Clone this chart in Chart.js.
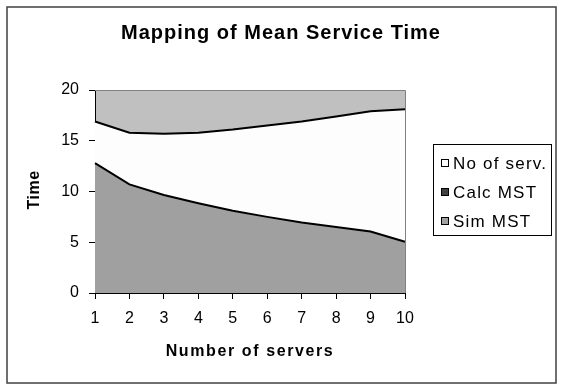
<!DOCTYPE html>
<html>
<head>
<meta charset="utf-8">
<script src="https://cdn.jsdelivr.net/npm/chart.js@4"></script>
<style>
  html, body { margin: 0; padding: 0; background: #fff; }
  #wrap { width: 563px; height: 392px; }
</style>
</head>
<body>
<div id="wrap"><canvas id="graphicMst" width="563" height="392"></canvas></div>
<script>
// Mapping of Mean Service Time - area chart
const servers = ['1', '2', '3', '4', '5', '6', '7', '8', '9', '10'];
const noOfServ = [16.9, 15.8, 15.7, 15.8, 16.1, 16.5, 16.9, 17.4, 17.9, 18.1];
const calcMst = [];
const simMst = [12.8, 10.7, 9.65, 8.85, 8.1, 7.5, 6.95, 6.5, 6.05, 5.05];
const yTicks = [0, 5, 10, 15, 20];

const fontName = '"Liberation Sans", Arial, sans-serif';

// plot background + frames + titles + legend (Excel look)
const excelLook = {
  id: 'excelLook',
  beforeDraw(chart) {
    const ctx = chart.ctx;
    const a = chart.chartArea;
    ctx.save();
    ctx.fillStyle = '#fff';
    ctx.fillRect(0, 0, chart.width, chart.height);
    ctx.fillStyle = '#c0c0c0';
    ctx.fillRect(a.left, a.top, a.right - a.left, a.bottom - a.top);
    ctx.restore();
  },
  afterDraw(chart) {
    const ctx = chart.ctx;
    const a = chart.chartArea;
    ctx.save();
    // plot frame
    ctx.strokeStyle = '#808080';
    ctx.lineWidth = 1;
    ctx.beginPath();
    ctx.moveTo(a.left, a.top + 0.5);
    ctx.lineTo(a.right + 0.5, a.top + 0.5);
    ctx.lineTo(a.right + 0.5, a.bottom);
    ctx.stroke();
    // chart area border
    ctx.strokeStyle = '#404040';
    ctx.lineWidth = 1.5;
    ctx.strokeRect(7, 7, 549, 376);

    // title
    ctx.fillStyle = '#000';
    ctx.textAlign = 'center';
    ctx.textBaseline = 'middle';
    ctx.letterSpacing = '1px';
    ctx.font = 'bold 20px ' + fontName;
    ctx.fillText('Mapping of Mean Service Time', 281, 33);

    // axis titles
    ctx.letterSpacing = '1.6px';
    ctx.font = 'bold 16px ' + fontName;
    ctx.fillText('Number of servers', (a.left + a.right) / 2, 352);
    ctx.save();
    ctx.translate(35, 190);
    ctx.rotate(-Math.PI / 2);
    ctx.letterSpacing = '0.5px';
    ctx.fillText('Time', 0, 0);
    ctx.restore();

    // legend
    ctx.letterSpacing = '0px';
    ctx.fillStyle = '#fff';
    ctx.fillRect(433, 144, 118, 91);
    ctx.strokeStyle = '#000';
    ctx.lineWidth = 1;
    ctx.strokeRect(433.5, 144.5, 118, 91);
    const rows = [163, 192, 221];
    ctx.textAlign = 'left';
    chart.data.datasets.forEach((ds, i) => {
      const y = rows[i];
      ctx.fillStyle = ds.legendColor;
      ctx.fillRect(441, y - 3.5, 7, 7);
      ctx.strokeStyle = '#000';
      ctx.strokeRect(441.5, y - 3.5, 7, 7);
      ctx.fillStyle = '#000';
      ctx.letterSpacing = '1.2px';
      ctx.font = '17px ' + fontName;
      ctx.fillText(ds.label, 453, y + 1);
    });
    ctx.restore();
  }
};

let chart1;
function getDrawGraphic() {
  var ctx = document.getElementById('graphicMst').getContext('2d');
  if (chart1) {
    chart1.destroy();
  }
  chart1 = new Chart(ctx, {
    type: 'line',
    data: {
      labels: servers,
      datasets: [
        {
          label: 'No of serv.',
          data: noOfServ,
          fill: 'origin',
          backgroundColor: '#fdfdfd',
          borderColor: '#000',
          borderWidth: 2,
          legendColor: '#ffffff',
          order: 2,
        },
        {
          label: 'Calc MST',
          data: calcMst,
          fill: 'origin',
          backgroundColor: '#404040',
          borderColor: '#000',
          borderWidth: 2,
          legendColor: '#404040',
          order: 1,
        },
        {
          label: 'Sim MST',
          data: simMst,
          fill: 'origin',
          backgroundColor: '#a0a0a0',
          borderColor: '#000',
          borderWidth: 2,
          legendColor: '#a0a0a0',
          order: 0,
        }
      ]
    },
    plugins: [excelLook],
    options: {
      responsive: false,
      animation: false,
      layout: { padding: { top: 90, right: 158, left: 0, bottom: 0 } },
      elements: { point: { radius: 0 }, line: { tension: 0 } },
      plugins: {
        legend: { display: false },
        title: { display: false },
        tooltip: { enabled: false },
      },
      scales: {
        x: {
          grid: { drawOnChartArea: false, color: '#000', tickLength: 6 },
          border: { color: '#000', width: 1 },
          ticks: {
            color: '#000', padding: 10, maxRotation: 0,
            font: { family: fontName, size: 16 },
          },
          afterFit(scale) { scale.height = 99; },
        },
        y: {
          min: 0, max: 20,
          afterBuildTicks(scale) { scale.ticks = yTicks.map(v => ({ value: v })); },
          grid: { drawOnChartArea: false, color: '#000', tickLength: 6 },
          border: { color: '#000', width: 1 },
          ticks: {
            color: '#000', padding: 10,
            font: { family: fontName, size: 16 },
          },
          afterFit(scale) { scale.width = 95; },
        }
      }
    }
  });
}

getDrawGraphic();
</script>
</body>
</html>
